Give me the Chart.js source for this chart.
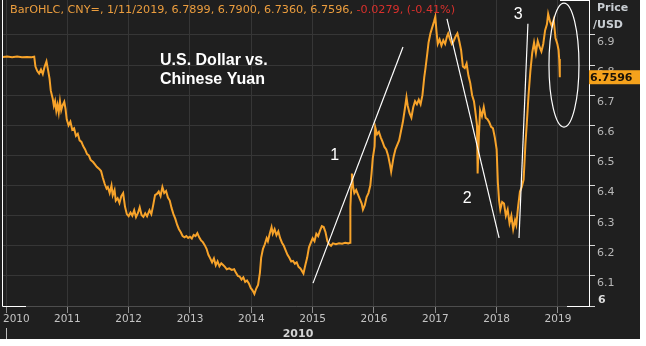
<!DOCTYPE html>
<html>
<head>
<meta charset="utf-8">
<script src="https://cdn.jsdelivr.net/npm/chart.js@4.4.1/dist/chart.umd.min.js"></script>
<style>
  html, body { margin: 0; padding: 0; background: #ffffff; }
  #wrap { width: 640px; height: 339px; background: #1f1f1f; }
</style>
</head>
<body>
<div id="wrap"><canvas id="fx" width="640" height="339"></canvas></div>
<script>
// USD/CNY daily closes, sampled by hand (decimal year -> rate)
const years = [
  2009.95, 2010.02, 2010.10, 2010.18, 2010.26, 2010.34, 2010.42, 2010.46, 2010.48, 2010.51,
  2010.54, 2010.57, 2010.60, 2010.63, 2010.66, 2010.68, 2010.71, 2010.73, 2010.76, 2010.78,
  2010.80, 2010.82, 2010.84, 2010.86, 2010.88, 2010.90, 2010.92, 2010.95, 2010.97, 2010.99,
  2011.02, 2011.05, 2011.08, 2011.11, 2011.14, 2011.17, 2011.20, 2011.23, 2011.26, 2011.29,
  2011.32, 2011.35, 2011.38, 2011.42, 2011.45, 2011.48, 2011.52, 2011.55, 2011.58, 2011.61,
  2011.64, 2011.66, 2011.69, 2011.72, 2011.74, 2011.77, 2011.79, 2011.82, 2011.85, 2011.88,
  2011.91, 2011.94, 2011.97, 2012.00, 2012.03, 2012.06, 2012.09, 2012.12, 2012.15, 2012.18,
  2012.21, 2012.24, 2012.27, 2012.30, 2012.34, 2012.37, 2012.40, 2012.43, 2012.46, 2012.49,
  2012.52, 2012.55, 2012.58, 2012.61, 2012.64, 2012.67, 2012.70, 2012.73, 2012.76, 2012.79,
  2012.82, 2012.85, 2012.88, 2012.91, 2012.94, 2012.97, 2013.00, 2013.03, 2013.06, 2013.09,
  2013.12, 2013.15, 2013.18, 2013.21, 2013.24, 2013.27, 2013.30, 2013.33, 2013.36, 2013.39,
  2013.42, 2013.45, 2013.48, 2013.51, 2013.54, 2013.57, 2013.60, 2013.64, 2013.68, 2013.72,
  2013.75, 2013.78, 2013.81, 2013.84, 2013.87, 2013.90, 2013.93, 2013.96, 2013.99, 2014.02,
  2014.05, 2014.08, 2014.11, 2014.14, 2014.16, 2014.19, 2014.22, 2014.25, 2014.27, 2014.30,
  2014.33, 2014.35, 2014.38, 2014.41, 2014.44, 2014.47, 2014.50, 2014.53, 2014.56, 2014.59,
  2014.62, 2014.65, 2014.68, 2014.71, 2014.74, 2014.77, 2014.80, 2014.83, 2014.85, 2014.88,
  2014.91, 2014.94, 2014.97, 2015.00, 2015.03, 2015.06, 2015.09, 2015.12, 2015.15, 2015.18,
  2015.21, 2015.24, 2015.27, 2015.30, 2015.33, 2015.38, 2015.43, 2015.48, 2015.53, 2015.58,
  2015.61, 2015.615, 2015.63, 2015.64, 2015.66, 2015.68, 2015.71, 2015.74, 2015.77, 2015.80,
  2015.82, 2015.85, 2015.88, 2015.91, 2015.94, 2015.96, 2015.98, 2016.01, 2016.02, 2016.05,
  2016.08, 2016.11, 2016.14, 2016.17, 2016.20, 2016.23, 2016.26, 2016.28, 2016.30, 2016.32,
  2016.35, 2016.38, 2016.41, 2016.44, 2016.47, 2016.50, 2016.53, 2016.55, 2016.58, 2016.61,
  2016.64, 2016.67, 2016.70, 2016.73, 2016.76, 2016.79, 2016.82, 2016.84, 2016.87, 2016.89,
  2016.92, 2016.95, 2016.98, 2017.00, 2017.02, 2017.04, 2017.07, 2017.10, 2017.13, 2017.16,
  2017.19, 2017.21, 2017.24, 2017.27, 2017.30, 2017.33, 2017.36, 2017.39, 2017.42, 2017.45,
  2017.48, 2017.51, 2017.54, 2017.57, 2017.60, 2017.63, 2017.65, 2017.68, 2017.69, 2017.71,
  2017.73, 2017.76, 2017.79, 2017.82, 2017.85, 2017.88, 2017.91, 2017.94, 2017.97, 2018.00,
  2018.02, 2018.04, 2018.06, 2018.09, 2018.12, 2018.15, 2018.18, 2018.21, 2018.24, 2018.27,
  2018.30, 2018.32, 2018.35, 2018.38, 2018.41, 2018.44, 2018.47, 2018.49, 2018.52, 2018.55,
  2018.58, 2018.61, 2018.64, 2018.67, 2018.70, 2018.73, 2018.76, 2018.79, 2018.82, 2018.84,
  2018.87, 2018.90, 2018.93, 2018.96, 2018.99, 2019.01, 2019.02, 2019.03
];
const rates = [
  6.827, 6.828, 6.826, 6.828, 6.826, 6.827, 6.826, 6.828, 6.795, 6.780,
  6.772, 6.785, 6.770, 6.795, 6.812, 6.790, 6.755, 6.715, 6.690, 6.665,
  6.680, 6.648, 6.668, 6.642, 6.680, 6.650, 6.665, 6.678, 6.655, 6.620,
  6.600, 6.612, 6.585, 6.590, 6.565, 6.572, 6.550, 6.545, 6.530, 6.520,
  6.505, 6.500, 6.485, 6.478, 6.470, 6.462, 6.455, 6.448, 6.425, 6.405,
  6.390, 6.395, 6.375, 6.400, 6.368, 6.385, 6.350, 6.358, 6.342, 6.365,
  6.375, 6.330, 6.305, 6.298, 6.310, 6.300, 6.318, 6.295, 6.308, 6.328,
  6.302, 6.296, 6.308, 6.298, 6.318, 6.305, 6.335, 6.368, 6.372, 6.380,
  6.365, 6.395, 6.375, 6.382, 6.360, 6.350, 6.325, 6.305, 6.290, 6.270,
  6.255, 6.245, 6.232, 6.228, 6.232, 6.226, 6.230, 6.224, 6.236, 6.232,
  6.242, 6.228, 6.218, 6.212, 6.202, 6.190, 6.170, 6.158, 6.145, 6.158,
  6.135, 6.148, 6.132, 6.142, 6.136, 6.130, 6.122, 6.125, 6.120, 6.122,
  6.110, 6.100, 6.098, 6.088, 6.095, 6.080, 6.085, 6.075, 6.060, 6.052,
  6.040, 6.058, 6.070, 6.110, 6.160, 6.190, 6.205, 6.225, 6.215, 6.240,
  6.262, 6.240, 6.255, 6.235, 6.248, 6.225, 6.210, 6.200, 6.185, 6.170,
  6.160, 6.148, 6.150, 6.140, 6.145, 6.130, 6.125, 6.115, 6.108, 6.135,
  6.160, 6.195, 6.210, 6.225, 6.215, 6.240, 6.232, 6.250, 6.265, 6.262,
  6.245, 6.215, 6.205, 6.200, 6.208, 6.205, 6.208, 6.207, 6.210, 6.208,
  6.210, 6.330, 6.395, 6.440, 6.395, 6.375, 6.385, 6.370, 6.355, 6.340,
  6.320, 6.335, 6.362, 6.375, 6.400, 6.440, 6.490, 6.530, 6.594, 6.570,
  6.578, 6.560, 6.545, 6.528, 6.520, 6.500, 6.470, 6.446, 6.470, 6.495,
  6.520, 6.535, 6.550, 6.580, 6.610, 6.650, 6.693, 6.665, 6.640, 6.625,
  6.660, 6.680, 6.670, 6.685, 6.670, 6.700, 6.760, 6.790, 6.840, 6.875,
  6.905, 6.925, 6.945, 6.960, 6.910, 6.870, 6.885, 6.865, 6.882, 6.870,
  6.895, 6.905, 6.885, 6.870, 6.880, 6.895, 6.905, 6.880, 6.850, 6.795,
  6.790, 6.805, 6.765, 6.740, 6.700, 6.680, 6.650, 6.600, 6.440, 6.560,
  6.650, 6.630, 6.660, 6.625, 6.620, 6.610, 6.595, 6.590, 6.560, 6.520,
  6.410, 6.350, 6.320, 6.345, 6.340, 6.300, 6.320, 6.275, 6.300, 6.255,
  6.285, 6.270, 6.330, 6.380, 6.395, 6.420, 6.540, 6.600, 6.700, 6.780,
  6.840, 6.875, 6.840, 6.880, 6.860, 6.845, 6.870, 6.915, 6.935, 6.970,
  6.945, 6.930, 6.950, 6.890, 6.870, 6.850, 6.820, 6.7596
];

const yearTicks = [2010, 2011, 2012, 2013, 2014, 2015, 2016, 2017, 2018, 2019];
const priceTicks = [6, 6.1, 6.2, 6.3, 6.4, 6.5, 6.6, 6.7, 6.8, 6.9];

const header = 'BarOHLC, CNY=, 1/11/2019, 6.7899, 6.7900, 6.7360, 6.7596, ';
const headerChange = '-0.0279, (-0.41%)';
const lastRate = 6.7596;

// hand drawn trend marks, in (year, rate) terms
const trendLines = [
  [2015.006, 6.076, 2016.473, 6.860],
  [2017.19, 6.953, 2018.04, 6.226],
  [2018.365, 6.226, 2018.51, 6.937]
];
const trendLabels = [
  ['1', 2015.36, 6.50],
  ['2', 2017.52, 6.355],
  ['3', 2018.35, 6.966]
];

const FONT = '"DejaVu Sans", Verdana, sans-serif';

const overlay = {
  id: 'overlay',
  afterDraw(chart) {
    const { ctx, chartArea: area, scales: { x, y } } = chart;
    ctx.save();

    // white frame bits
    ctx.strokeStyle = '#ffffff';
    ctx.lineWidth = 1;
    ctx.beginPath();
    ctx.moveTo(2.5, 0); ctx.lineTo(2.5, area.bottom + 0.5); ctx.lineTo(26, area.bottom + 0.5);
    ctx.moveTo(567, area.bottom + 0.5); ctx.lineTo(area.right, area.bottom + 0.5);
    ctx.moveTo(560, 0.5); ctx.lineTo(area.right, 0.5);
    ctx.stroke();

    // trend lines
    ctx.lineWidth = 1.2;
    trendLines.forEach(([x0, y0, x1, y1]) => {
      ctx.beginPath();
      ctx.moveTo(x.getPixelForValue(x0), y.getPixelForValue(y0));
      ctx.lineTo(x.getPixelForValue(x1), y.getPixelForValue(y1));
      ctx.stroke();
    });

    // ring around the latest move
    const cx = x.getPixelForValue(2019.098), cy = y.getPixelForValue(6.80);
    ctx.beginPath();
    ctx.ellipse(cx, cy, 15, 62, 0, 0, Math.PI * 2);
    ctx.stroke();

    ctx.fillStyle = '#ffffff';
    ctx.textBaseline = 'middle';
    ctx.textAlign = 'center';
    ctx.font = '16px "Liberation Sans", Arial, sans-serif';
    trendLabels.forEach(([t, xv, yv]) => {
      ctx.fillText(t, x.getPixelForValue(xv), y.getPixelForValue(yv));
    });

    ctx.textAlign = 'left';
    ctx.font = 'bold 16px "Liberation Sans", Arial, sans-serif';
    ctx.fillText('U.S. Dollar vs.', 160, 61);
    ctx.fillText('Chinese Yuan', 160, 80);

    // header line
    ctx.font = '11.2px ' + FONT;
    ctx.fillStyle = '#eb9d3e';
    ctx.fillText(header, 10, 10);
    ctx.fillStyle = '#d8302c';
    ctx.fillText(headerChange, 10 + ctx.measureText(header).width, 10);

    // price axis labels
    ctx.fillStyle = '#c9ced3';
    ctx.font = 'bold 11px ' + FONT;
    ctx.fillText('Price', 597, 8);
    ctx.fillText('/USD', 593, 25);
    y.ticks.forEach(t => {
      const py = Math.min(y.getPixelForValue(t.value) + 7, area.bottom - 6);
      if (t.value === 6) {
        ctx.font = 'bold 11px ' + FONT;
        ctx.fillStyle = '#dcdcdc';
        ctx.fillText('6', 598, py);
      } else {
        ctx.font = '11px ' + FONT;
        ctx.fillStyle = '#b8b8b8';
        ctx.fillText(t.value.toFixed(1), 597, py);
      }
    });

    // last price tag
    const ly = y.getPixelForValue(lastRate);
    ctx.fillStyle = '#f5a21c';
    ctx.fillRect(area.right, ly - 7, 51, 14);
    ctx.fillStyle = '#1a1208';
    ctx.font = 'bold 11px ' + FONT;
    ctx.fillText(lastRate.toFixed(4), area.right + 1, ly + 0.5);

    // year labels, kept inside the frame
    ctx.font = '10.5px ' + FONT;
    ctx.fillStyle = '#c4c4c4';
    x.ticks.forEach(t => {
      const label = String(t.value);
      const w = ctx.measureText(label).width;
      const px = x.getPixelForValue(t.value);
      ctx.fillText(label, Math.max(3, px - w / 2), 319);
    });

    ctx.font = 'bold 11px ' + FONT;
    ctx.fillStyle = '#d4d4d4';
    ctx.textAlign = 'center';
    ctx.fillText('2010', 298, 334);
    const p0 = Math.round(x.getPixelForValue(2010)) + 0.5;
    ctx.strokeStyle = '#bdbdbd';
    ctx.lineWidth = 1;
    ctx.beginPath();
    ctx.moveTo(p0, 328); ctx.lineTo(p0, 339);
    ctx.stroke();

    ctx.restore();
  }
};

const canvas = document.getElementById('fx');
new Chart(canvas, {
  type: 'line',
  data: {
    datasets: [{
      data: years.map((yr, i) => ({ x: yr, y: rates[i] })),
      borderColor: '#f7a32a',
      borderWidth: 2,
      pointRadius: 0,
      tension: 0
    }]
  },
  options: {
    responsive: false,
    animation: false,
    layout: { padding: { left: 3, top: 0, right: 0, bottom: 0 } },
    plugins: { legend: { display: false }, tooltip: { enabled: false } },
    scales: {
      x: {
        type: 'linear',
        min: 2009.951,
        max: 2019.506,
        afterBuildTicks: s => { s.ticks = yearTicks.map(v => ({ value: v })); },
        afterFit: s => { s.height = 33; },
        ticks: { display: false },
        grid: { color: '#363636', tickColor: '#8c8c8c', tickLength: 7 },
        border: { color: '#4d4d4d' }
      },
      y: {
        position: 'right',
        min: 6,
        max: 7.016,
        afterBuildTicks: s => { s.ticks = priceTicks.map(v => ({ value: v })); },
        afterFit: s => { s.width = 51; },
        ticks: { display: false },
        grid: { color: '#363636', tickColor: '#d8d8d8', tickLength: 6 },
        border: { color: '#ffffff' }
      }
    }
  },
  plugins: [overlay]
});
</script>
</body>
</html>
